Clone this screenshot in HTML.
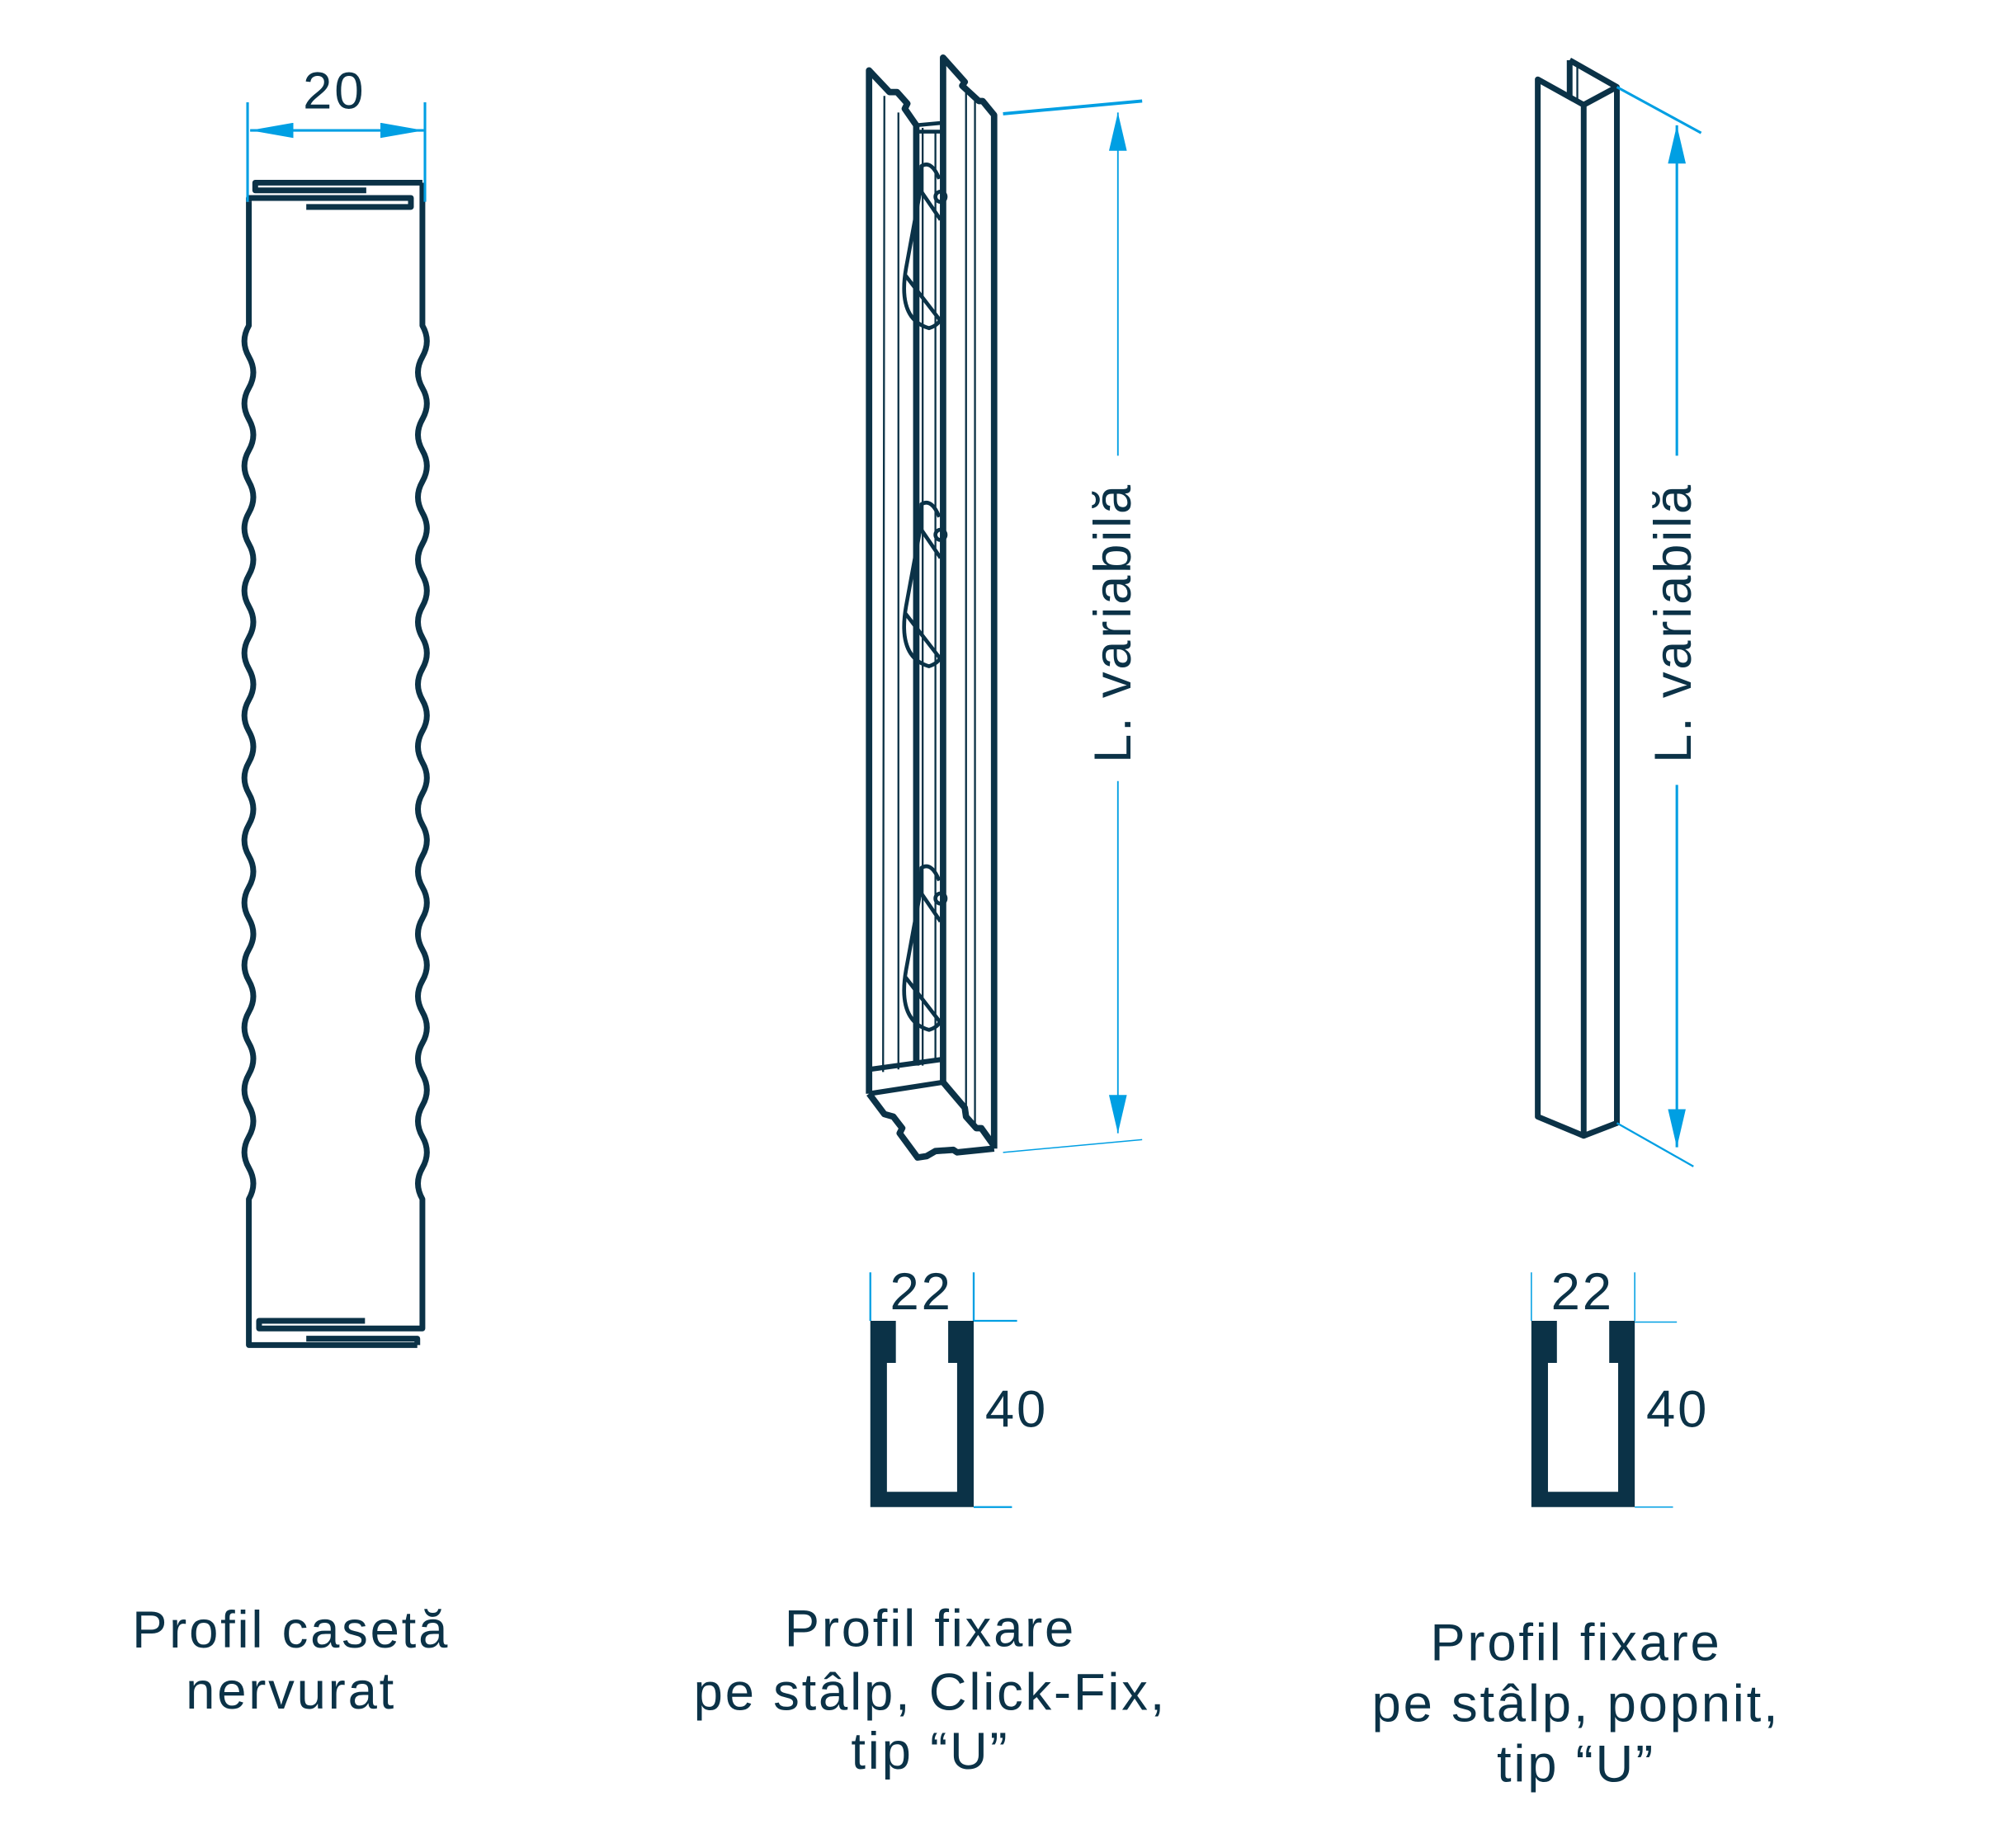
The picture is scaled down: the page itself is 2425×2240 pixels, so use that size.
<!DOCTYPE html>
<html><head><meta charset="utf-8"><style>
html,body{margin:0;padding:0;background:#fff}
svg{display:block}
text{font-family:"Liberation Sans",sans-serif;fill:#0b3247}
</style></head><body>
<svg width="2425" height="2240" viewBox="0 0 1568 1448" xmlns="http://www.w3.org/2000/svg">
<defs>
<marker id="ar" viewBox="0 0 30 14" refX="30" refY="7" markerWidth="30" markerHeight="14" markerUnits="userSpaceOnUse" orient="auto-start-reverse"><path d="M0,0 L30,7 L0,14 z" fill="#009fe3"/></marker>
<marker id="ar2" viewBox="0 0 34 12" refX="34" refY="6" markerWidth="34" markerHeight="12" markerUnits="userSpaceOnUse" orient="auto-start-reverse"><path d="M0,0 L34,6 L0,12 z" fill="#009fe3"/></marker>
</defs>
<g fill="none" stroke="#0b3247" stroke-width="4.5" stroke-linejoin="round">
<path d="M195,158 L195,255 q-7,12.2 0,24.45 q7,12.2 0,24.45 q-7,12.2 0,24.45 q7,12.2 0,24.45 q-7,12.2 0,24.45 q7,12.2 0,24.45 q-7,12.2 0,24.45 q7,12.2 0,24.45 q-7,12.2 0,24.45 q7,12.2 0,24.45 q-7,12.2 0,24.45 q7,12.2 0,24.45 q-7,12.2 0,24.45 q7,12.2 0,24.45 q-7,12.2 0,24.45 q7,12.2 0,24.45 q-7,12.2 0,24.45 q7,12.2 0,24.45 q-7,12.2 0,24.45 q7,12.2 0,24.45 q-7,12.2 0,24.45 q7,12.2 0,24.45 q-7,12.2 0,24.45 q7,12.2 0,24.45 q-7,12.2 0,24.45 q7,12.2 0,24.45 q-7,12.2 0,24.45 q7,12.2 0,24.45 L195,1054 L327,1054"/>
<path d="M331,143 L331,255 q7,12.2 0,24.45 q-7,12.2 0,24.45 q7,12.2 0,24.45 q-7,12.2 0,24.45 q7,12.2 0,24.45 q-7,12.2 0,24.45 q7,12.2 0,24.45 q-7,12.2 0,24.45 q7,12.2 0,24.45 q-7,12.2 0,24.45 q7,12.2 0,24.45 q-7,12.2 0,24.45 q7,12.2 0,24.45 q-7,12.2 0,24.45 q7,12.2 0,24.45 q-7,12.2 0,24.45 q7,12.2 0,24.45 q-7,12.2 0,24.45 q7,12.2 0,24.45 q-7,12.2 0,24.45 q7,12.2 0,24.45 q-7,12.2 0,24.45 q7,12.2 0,24.45 q-7,12.2 0,24.45 q7,12.2 0,24.45 q-7,12.2 0,24.45 q7,12.2 0,24.45 q-7,12.2 0,24.45 L331,1041 L203,1041 L203,1035 L286,1035"/>
<path d="M287,149 L200,149 L200,143 L331,143"/>
<path d="M195,158 L195,155 L322,155 L322,162 L240,162"/>
<path d="M327,1054 L327,1049 L240,1049"/>
<path d="M681,857 L681,55 L697,72 L703,72 L711,81 L709,85 L718,98 L718,835" stroke-width="5"/>
<path d="M739,848 L739,45 L756,64 L754,67 L767,79 L770,79 L779,90 L779,900" stroke-width="5"/>
<path d="M681,857 L693,873 L700,875 L707,884 L705,888 L719,907 L726,906 L733,902 L747,901 L750,903 L779,900" stroke-width="5"/>
<path d="M739,848 L756,868 L757,875 L765,884 L769,884 L779,898" stroke-width="5"/>
<path d="M681,857 L739,848 M681,838 L739,830" stroke-width="4"/>
<path d="M718,98 L739,96 M720,103 L739,103" stroke-width="3"/>
<g stroke-width="1.5"><path d="M693,75 L692,840 M704,88 L704,838 M733,104 L733,830 M764,75 L764,880 M757,68 L757,872 M723,100 L723,835"/></g>
<g stroke-width="3">
<g><path d="M736,140 Q730,125 722,130 L721,150 L710,210 Q703,250 728,257 Q737,254 737,248 M722,150 L737,172 M709,215 L736,250"/><circle cx="737" cy="154" r="4"/></g>
<g transform="translate(0,265)"><path d="M736,140 Q730,125 722,130 L721,150 L710,210 Q703,250 728,257 Q737,254 737,248 M722,150 L737,172 M709,215 L736,250"/><circle cx="737" cy="154" r="4"/></g>
<g transform="translate(0,550)"><path d="M736,140 Q730,125 722,130 L721,150 L710,210 Q703,250 728,257 Q737,254 737,248 M722,150 L737,172 M709,215 L736,250"/><circle cx="737" cy="154" r="4"/></g>
</g>
<path d="M1205,62 L1241,82 L1241,890 L1205,875 Z" stroke-width="4.5"/>
<path d="M1241,82 L1267,68 L1267,880 L1241,890" stroke-width="4.5"/>
<path d="M1230,47 L1267,68 M1230,47 L1230,75" stroke-width="4.5"/>
<path d="M1236,52 L1236,80" stroke-width="1.5"/>
</g>
<g stroke="#009fe3" fill="none">
<path d="M194,80 L194,158 M333,80 L333,158" stroke-width="2"/>
<path d="M196,102 L332,102" stroke-width="2" marker-start="url(#ar2)" marker-end="url(#ar2)"/>
<path d="M786,89 L895,79" stroke-width="2.5"/>
<path d="M786,903 L895,893" stroke-width="1"/>
<path d="M876,357 L876,88" stroke-width="1.2" marker-end="url(#ar)"/>
<path d="M876,612 L876,888" stroke-width="1.2" marker-end="url(#ar)"/>
<path d="M1267,68 L1333,104" stroke-width="2"/>
<path d="M1267,880 L1327,914" stroke-width="1.5"/>
<path d="M1314,357 L1314,98" stroke-width="2" marker-end="url(#ar)"/>
<path d="M1314,615 L1314,899" stroke-width="2" marker-end="url(#ar)"/>
<path d="M682,997 L682,1035 M763,997 L763,1035 M763,1035 L797,1035 M763,1181 L793,1181" stroke-width="1.5"/>
<path d="M1200,997 L1200,1035 M1281,997 L1281,1035 M1281,1036 L1314,1036 M1281,1181 L1311,1181" stroke-width="1"/>
</g>
<path d="M682,1035 L702,1035 L702,1068 L695,1068 L695,1169 L750,1169 L750,1068 L743,1068 L743,1035 L763,1035 L763,1181 L682,1181 Z" fill="#0b3247"/>
<path d="M1200,1035 L1220,1035 L1220,1068 L1213,1068 L1213,1169 L1268,1169 L1268,1068 L1261,1068 L1261,1035 L1281,1035 L1281,1181 L1200,1181 Z" fill="#0b3247"/>
<g font-size="41" letter-spacing="1.8" text-anchor="middle">
<text x="262" y="85">20</text>
<text x="722" y="1026">22</text>
<text x="1240" y="1026">22</text>
<text x="772" y="1118" text-anchor="start">40</text>
<text x="1290" y="1118" text-anchor="start">40</text>
<text transform="translate(886,488) rotate(-90)">L. variabilă</text>
<text transform="translate(1325,488) rotate(-90)">L. variabilă</text>
<text x="228" y="1291">Profil casetă</text>
<text x="228" y="1339">nervurat</text>
<text x="729" y="1290">Profil fixare</text>
<text x="729" y="1340">pe stâlp, Click-Fix,</text>
<text x="729" y="1386">tip “U”</text>
<text x="1235" y="1301">Profil fixare</text>
<text x="1235" y="1349">pe stâlp, popnit,</text>
<text x="1235" y="1396">tip “U”</text>
</g>
</svg>
</body></html>
